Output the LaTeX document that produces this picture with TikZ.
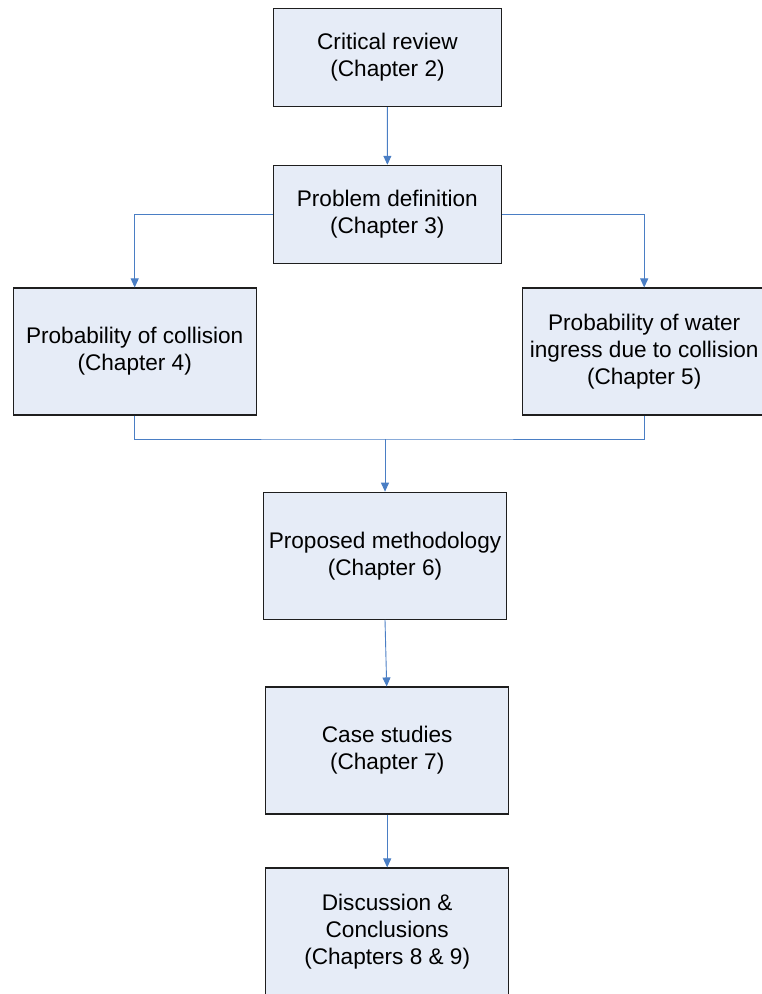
\documentclass[tikz,border=0pt]{standalone}
\usepackage{fontspec}
\setmainfont{Liberation Sans}
\usetikzlibrary{arrows.meta}
\definecolor{boxfill}{HTML}{E6ECF7}
\definecolor{boxline}{HTML}{1E1E1E}
\definecolor{linkblue}{HTML}{4A7EC4}
\begin{document}
\begin{tikzpicture}[x=1pt,y=-1pt,
  chaptext/.style={inner sep=0pt,align=center,font=\fontsize{22.6}{27}\selectfont},
  chapbox/.style={chaptext,draw=boxline,fill=boxfill,line width=1.1pt},
  small/.style={chapbox,minimum width=228pt,minimum height=98pt},
  large/.style={chapbox,minimum width=243pt,minimum height=127pt},
  link/.style={draw=linkblue,line width=0.9pt},
  arr/.style={link,-{Triangle[length=9pt,width=8pt]}}]
\useasboundingbox (0,0) rectangle (761,994);

\node[small] (review)  at (387.5,57.5)  {Critical review\\(Chapter 2)};
\node[small] (problem) at (387.3,214.3) {Problem definition\\(Chapter 3)};
\node[large] (coll)    at (134.7,351.5) {Probability of collision\\(Chapter 4)};
% this box runs past the right edge of the page, its text stays centred on the arrows
\node[large,minimum width=252pt] (water) at (648.7,351.5) {};
\node[chaptext] (watertext) at (644.2,351.5) {Probability of water\\ingress due to collision\\(Chapter 5)};
\node[large] (method)  at (385,555.7)   {Proposed methodology\\(Chapter 6)};
\node[large] (cases)   at (387.2,750.5) {Case studies\\(Chapter 7)};
\node[large] (concl)   at (387.2,931.5) {Discussion \&\\Conclusions\\(Chapters 8 \& 9)};

\coordinate (waterin)  at (watertext |- water.north);
\coordinate (waterout) at (watertext |- water.south);
\coordinate (merge) at (385,439);

\draw[arr] (review) -- (problem);
\draw[arr] (problem.west) -| (coll.north);
\draw[arr] (problem.east) -| (waterin);
\draw[link] (coll.south) |- (merge) -| (waterout);
\draw[arr] (merge) -- (method.north);
\draw[arr] (method.south) -- ([xshift=1.7pt]method.south |- cases.north);
\draw[arr] (cases) -- (concl);
\end{tikzpicture}
\end{document}
